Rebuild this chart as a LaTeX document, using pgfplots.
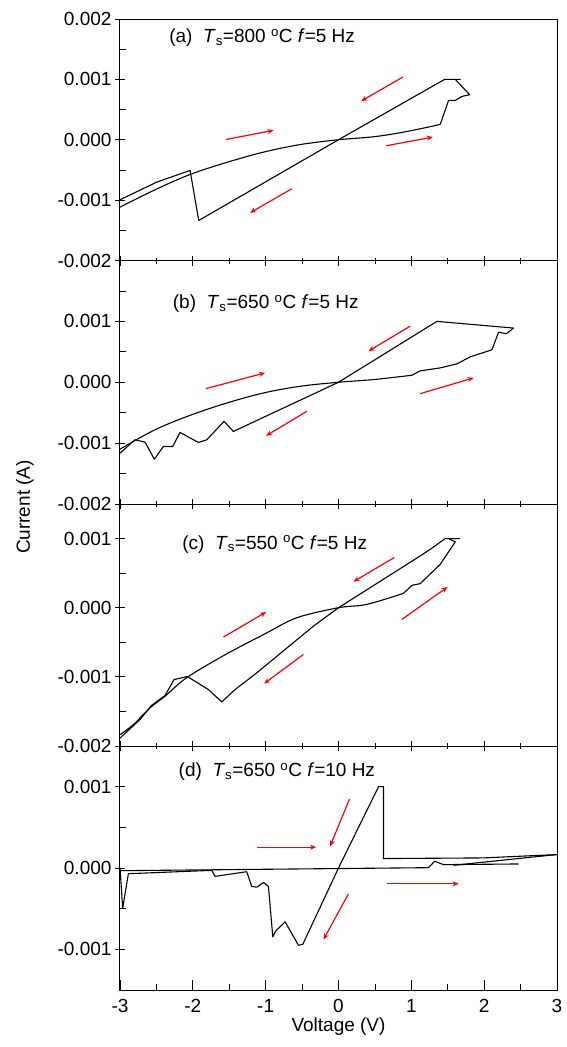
\documentclass[border=0pt]{standalone}
\usepackage{fontspec}
\setmainfont{Liberation Sans}
\usepackage{pgfplots}
\pgfplotsset{compat=1.18}
\usetikzlibrary{arrows.meta}

\tikzset{lab/.style={anchor=west, font=\fontsize{19}{21}\selectfont, inner sep=1pt}}
\pgfplotsset{
 panel/.style={
  scale only axis, width=437pt,
  xmin=-3, xmax=3,
  xtick={-3,-2,-1,0,1,2,3},
  minor xtick={-2.5,-1.5,-0.5,0.5,1.5,2.5},
  tick align=center,
  ytick pos=left, xtick pos=bottom,
  major tick length=10pt, minor tick length=6pt,
  every tick/.style={black, line width=0.8pt},
  minor y tick style={xshift=3pt},
  axis line style={line width=1pt},
  /pgf/number format/assume math mode=true,
  /pgf/number format/fixed, /pgf/number format/fixed zerofill, /pgf/number format/precision=3,
  scaled y ticks=false,
  yticklabel style={font=\fontsize{19}{21}\selectfont},
  xticklabel style={font=\fontsize{19}{21}\selectfont, yshift=-1pt},
 },
 curve/.style={black, line width=1.1pt, line join=round},
 scurve/.style={black, line width=1.1pt, smooth, tension=0.55},
 arr/.style={red, line width=1.2pt, -{Stealth[length=6pt,width=5pt]}},
}

\begin{document}
\begin{tikzpicture}
% (a)
\begin{axis}[panel, name=a, at={(0,0)}, anchor=north west, height=241.5pt,
  ymin=-0.002, ymax=0.002,
  ytick={-0.002,-0.001,0,0.001,0.002},
  minor ytick={-0.0015,-0.0005,0.0005,0.0015},
  xticklabels={}]
\addplot[scurve] coordinates {
(-3,-0.001116) (-2.519,-0.000829) (-2.038,-0.000575) (-1.534,-0.000375)
(-1.030,-0.000205) (-0.527,-0.0000800) (0,0) (0.481,0.0000497)
(0.847,0.000116) (1.191,0.000199) (1.397,0.000254)};
\addplot[curve] coordinates {
(1.397,0.000254) (1.511,0.000652)
(1.603,0.000652) (1.695,0.000718) (1.800,0.000746) (1.603,0.001)
(1.672,0.001) (1.457,0.001) (0,0) (-1.919,-0.001337) (-2.038,-0.000508)
(-2.496,-0.000702) (-3,-0.000994)};
\addplot[arr] coordinates {(-1.543,0.0000055) (-0.893,0.000155)};
\addplot[arr] coordinates {(0.884,0.001039) (0.312,0.000641)};
\addplot[arr] coordinates {(0.655,-0.0000994) (1.296,0.0000442)};
\addplot[arr] coordinates {(-0.641,-0.000812) (-1.214,-0.00121)};
\node[lab] at (axis cs:-2.34,0.00169) {(a)\ \ \textit{T}\textsubscript{s}=800 \textsuperscript{o}C \textit{f}=5 Hz};
\end{axis}
% (b)
\begin{axis}[panel, name=b, at={(a.south west)}, anchor=north west, height=243.5pt,
  ymin=-0.002, ymax=0.002,
  ytick={-0.002,-0.001,0,0.001},
  minor ytick={-0.0015,-0.0005,0.0005,0.0015},
  xticklabels={}]
\addplot[scurve] coordinates {
(-3,-0.001099) (-2.519,-0.000780) (-2.038,-0.000544) (-1.534,-0.000341)
(-1.030,-0.000176) (-0.527,-0.0000659) (0,0) (0.481,0.0000440)
(1.008,0.000115)};
\addplot[curve] coordinates {
(1.008,0.000115) (1.122,0.000187) (1.397,0.000236) (1.626,0.000302)
(1.809,0.000418) (2.107,0.000533) (2.198,0.000824) (2.304,0.000797)
(2.405,0.000890) (1.351,0.001) (0,0) (-1.443,-0.000808) (-1.571,-0.000643)
(-1.809,-0.000945) (-1.924,-0.000989) (-2.176,-0.000824) (-2.276,-0.001055)
(-2.405,-0.001055) (-2.528,-0.001264) (-2.656,-0.000984) (-2.794,-0.000945)
(-3,-0.001165)};
\addplot[arr] coordinates {(-1.818,-0.000104) (-1.008,0.000154)};
\addplot[arr] coordinates {(0.985,0.000923) (0.412,0.000511)};
\addplot[arr] coordinates {(1.122,-0.000187) (1.855,0.0000714)};
\addplot[arr] coordinates {(-0.435,-0.000478) (-0.994,-0.000879)};
\node[lab] at (axis cs:-2.29,0.00129) {(b)\ \ \textit{T}\textsubscript{s}=650 \textsuperscript{o}C \textit{f}=5 Hz};
\end{axis}
% (c)
\begin{axis}[panel, name=c, at={(b.south west)}, anchor=north west, height=242pt,
  ymin=-0.002, ymax=0.0015,
  ytick={-0.002,-0.001,0,0.001},
  minor ytick={-0.0015,-0.0005,0.0005},
  xticklabels={}]
\addplot[scurve] coordinates {
(-3,-0.001836) (-2.817,-0.001691) (-2.588,-0.001449) (-2.382,-0.001280)
(-2.075,-0.001005) (-1.534,-0.000667) (-1.008,-0.000377) (-0.573,-0.000145)
(0,0) (0.389,0.0000483) (0.893,0.000208)};
\addplot[curve] coordinates {
(0.893,0.000208) (1.008,0.000324) (1.122,0.000348)
(1.397,0.000628) (1.603,0.000952) (1.511,0.001) (1.663,0.001) (1.466,0.001)
(1.260,0.000845) (1.122,0.000749) (0,0) (-0.344,-0.000266) (-1.122,-0.000942)
(-1.420,-0.001184) (-1.603,-0.001362) (-1.786,-0.001184) (-2.075,-0.000995)
(-2.258,-0.001039) (-2.382,-0.001271) (-2.565,-0.001411) (-2.725,-0.001618)
(-3,-0.001884)};
\addplot[arr] coordinates {(-1.580,-0.000425) (-0.994,-0.0000628)};
\addplot[arr] coordinates {(0.765,0.000725) (0.206,0.000377)};
\addplot[arr] coordinates {(0.870,-0.000169) (1.498,0.000300)};
\addplot[arr] coordinates {(-0.481,-0.000676) (-1.021,-0.001097)};
\node[lab] at (axis cs:-2.16,0.00092) {(c)\ \ \textit{T}\textsubscript{s}=550 \textsuperscript{o}C \textit{f}=5 Hz};
\end{axis}
% (d)
\begin{axis}[panel, name=d, at={(c.south west)}, anchor=north west, height=244pt,
  ymin=-0.0015, ymax=0.0015,
  ytick={-0.001,0,0.001},
  minor ytick={-0.0005,0.0005},
  major x tick style={yshift=5pt}, minor x tick style={yshift=3pt},
  xticklabel={\pgfmathprintnumber[fixed,precision=0]{\tick}},
  xlabel={Voltage (V)}, xlabel style={font=\fontsize{19}{21}\selectfont, yshift=2pt}]
\addplot[curve] coordinates {
(-3,-0.0000331) (1.237,0.0000041) (1.319,0.0000826) (1.443,0.0000413) (2.473,0.0000496)};
\addplot[curve] coordinates {
(1.580,0.0000331) (2.679,0.000136) (3,0.000165)};
\addplot[curve] coordinates {
(-3,0) (-2.963,-0.000496) (-2.885,-0.0000702) (-1.740,-0.0000289) (-1.695,-0.000103)
(-1.260,-0.0000455) (-1.191,-0.000227) (-1.122,-0.000236) (-1.030,-0.000178)
(-0.962,-0.000227) (-0.902,-0.000847) (-0.861,-0.000773) (-0.733,-0.000661)
(-0.550,-0.000950) (-0.490,-0.000938) (0,0) (0.550,0.001) (0.618,0.001)
(0.618,0.000116) (1.992,0.000124) (2.496,0.000145) (3,0.000165)};
\addplot[arr] coordinates {(-1.122,0.000256) (-0.307,0.000256)};
\addplot[arr] coordinates {(0.151,0.000847) (-0.115,0.000269)};
\addplot[arr] coordinates {(0.664,-0.000194) (1.649,-0.000194)};
\addplot[arr] coordinates {(0.137,-0.000318) (-0.206,-0.000880)};
\node[lab] at (axis cs:-2.21,0.00118) {(d)\ \ \textit{T}\textsubscript{s}=650 \textsuperscript{o}C \textit{f}=10 Hz};
\end{axis}
\node[rotate=90, font=\fontsize{19}{21}\selectfont] at (-95pt,-488pt) {Current (A)};
\pgfresetboundingbox
\path[use as bounding box] (-120pt,19pt) rectangle (447pt,-1028pt);
\end{tikzpicture}
\end{document}
